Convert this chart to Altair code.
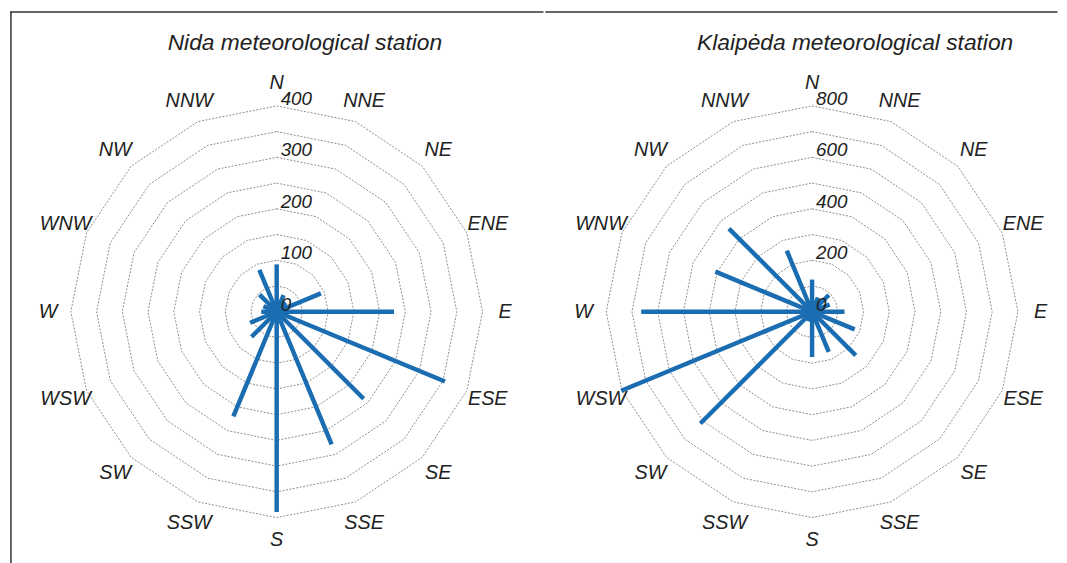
import altair as alt
import pandas as pd

# ---- data ----
directions = ["N", "NNE", "NE", "ENE", "E", "ESE", "SE", "SSE",
              "S", "SSW", "SW", "WSW", "W", "WNW", "NW", "NNW"]
nida_values = [92, 35, 25, 93, 228, 354, 239, 279, 389, 220, 69, 56, 30, 28, 47, 88]
klaipeda_values = [125, 60, 92, 74, 126, 179, 240, 169, 176, 40, 614, 803, 664, 407, 457, 257]
nida_rings = [50, 100, 150, 200, 250, 300, 350, 400]
nida_ring_labels = [0, 100, 200, 300, 400]
klaipeda_rings = [100, 200, 300, 400, 500, 600, 700, 800]
klaipeda_ring_labels = [0, 200, 400, 600, 800]
titles = ["Nida meteorological station", "Klaipėda meteorological station"]

BLUE = "#1a6db0"
FONT = "Liberation Sans"
PX_OUTER = 208.0      # pixel radius of the outer ring
PANEL_H = 546
CENTER_Y = 302.0      # px from top of panel to the rose centre


def panel(values, rings, ring_labels, rmax, title, title_x, left_px, right_px, frame_left):
    k = PX_OUTER / rmax            # px per unit
    width = left_px + right_px
    xs = alt.Scale(domain=[-left_px / k, right_px / k], nice=False, zero=False)
    ys = alt.Scale(domain=[-(PANEL_H - CENTER_Y) / k, CENTER_Y / k], nice=False, zero=False)

    bars_df = pd.DataFrame({"dir": directions, "idx": list(range(16)), "value": values})
    ring_rows = [{"ring": r, "k": j} for r in rings for j in range(17)]
    rings_df = pd.DataFrame(ring_rows)
    rl_df = pd.DataFrame({"v": ring_labels, "lab": [str(v) for v in ring_labels]})
    dir_df = pd.DataFrame({"dir": directions, "idx": list(range(16)), "r": [rmax * 1.11] * 16})

    grid = alt.Chart(rings_df).transform_calculate(
        ang="datum.k*PI/8",
        x="datum.ring*sin(datum.ang)",
        y="datum.ring*cos(datum.ang)",
    ).mark_line(color="#707070", strokeWidth=0.8, strokeDash=[2, 1.5]).encode(
        x=alt.X("x:Q", scale=xs, axis=None),
        y=alt.Y("y:Q", scale=ys, axis=None),
        detail="ring:N",
        order=alt.Order("k:Q"),
    )

    bars = alt.Chart(bars_df).transform_calculate(
        ang="datum.idx*PI/8",
        x0="0",
        y0="0",
        x1="datum.value*sin(datum.ang)",
        y1="datum.value*cos(datum.ang)",
    ).mark_rule(color=BLUE, strokeWidth=4.5, strokeCap="butt").encode(
        x=alt.X("x0:Q", scale=xs, axis=None),
        y=alt.Y("y0:Q", scale=ys, axis=None),
        x2="x1:Q",
        y2="y1:Q",
    )

    ring_text = alt.Chart(rl_df).transform_calculate(x0="0").mark_text(
        font=FONT, fontStyle="italic", fontSize=19, align="left",
        baseline="alphabetic", dx=4, dy=-1, color="#222222"
    ).encode(
        x=alt.X("x0:Q", scale=xs, axis=None),
        y=alt.Y("v:Q", scale=ys, axis=None),
        text="lab:N",
    )

    dir_text = alt.Chart(dir_df).transform_calculate(
        ang="datum.idx*PI/8",
        x="datum.r*sin(datum.ang)",
        y="datum.r*cos(datum.ang)",
    ).mark_text(
        font=FONT, fontStyle="italic", fontSize=20, align="center",
        baseline="middle", color="#222222"
    ).encode(
        x=alt.X("x:Q", scale=xs, axis=None),
        y=alt.Y("y:Q", scale=ys, axis=None),
        text="dir:N",
    )

    title_df = pd.DataFrame({"t": [title]})
    title_text = alt.Chart(title_df).mark_text(
        font=FONT, fontStyle="italic", fontSize=23, align="center",
        baseline="middle", color="#222222"
    ).encode(x=alt.value(title_x), y=alt.value(31), text="t:N")

    one = pd.DataFrame({"a": [0]})
    top_rule = alt.Chart(one).mark_rule(color="#333333", strokeWidth=1.5).encode(
        x=alt.value(-2), x2=alt.value(width + 2), y=alt.value(-1)
    )
    layers = [grid, bars, ring_text, dir_text, title_text, top_rule]
    if frame_left:
        left_rule = alt.Chart(one).mark_rule(color="#333333", strokeWidth=1.5).encode(
            x=alt.value(-1), y=alt.value(-1), y2=alt.value(PANEL_H + 10)
        )
        layers.append(left_rule)
    return alt.layer(*layers).properties(width=width, height=PANEL_H)


left = panel(nida_values, nida_rings, nida_ring_labels, 400, titles[0],
             296, 267.5, 267.5, True)
right = panel(klaipeda_values, klaipeda_rings, klaipeda_ring_labels, 800, titles[1],
              311, 267.5, 246, False)

chart = alt.hconcat(left, right, spacing=0).properties(
    padding={"left": 1, "top": 0, "right": 0, "bottom": 0}
).configure_view(stroke=None)

chart.save("out.html", embed_options={"renderer": "svg", "actions": False})
